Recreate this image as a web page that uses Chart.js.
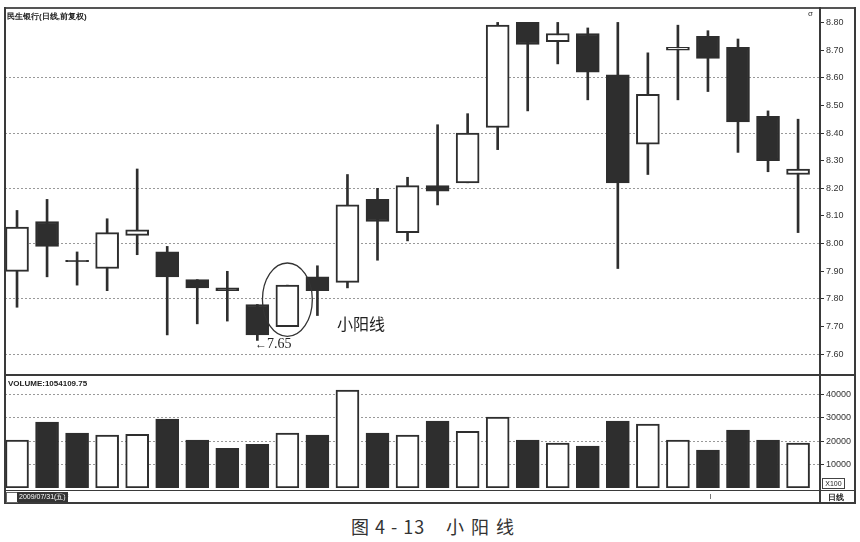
<!DOCTYPE html>
<html>
<head>
<meta charset="utf-8">
<script src="https://cdn.jsdelivr.net/npm/chart.js@4.4.1/dist/chart.umd.min.js"></script>
<style>
  body { margin: 0; width: 860px; height: 542px; background: #fff; position: relative; overflow: hidden; font-family: "Liberation Sans", Arial, sans-serif; }
  .abs { position: absolute; }
  .line { position: absolute; background: #3a3a3a; }
  canvas { position: absolute; }
  .tiny { font-size: 8px; font-weight: bold; color: #222; white-space: nowrap; }
</style>
</head>
<body>
<canvas id="priceChart" width="850" height="366" style="left:5px;top:9px"></canvas>
<canvas id="volumeChart" width="850" height="111" style="left:5px;top:377px"></canvas>

<!-- frame of the trading software window -->
<div class="line" style="left:4px;top:7px;width:852px;height:2px;background:#555"></div>
<div class="line" style="left:4px;top:7px;width:2px;height:497px"></div>
<div class="line" style="left:854px;top:7px;width:2px;height:497px"></div>
<div class="line" style="left:819px;top:7px;width:2px;height:497px"></div>
<div class="line" style="left:4px;top:374px;width:852px;height:2px"></div>
<div class="line" style="left:4px;top:490px;width:852px;height:1px"></div>
<div class="line" style="left:4px;top:502px;width:852px;height:2px"></div>

<div class="abs tiny" style="left:7px;top:11px">民生银行(日线,前复权)</div>
<div class="abs tiny" style="left:8px;top:379px">VOLUME:1054109.75</div>
<div class="abs" style="left:808px;top:9px;font-size:8px;color:#333">σ</div>
<div class="abs" style="left:822px;top:478px;width:21px;height:9px;border:1px solid #444;font-size:7px;line-height:9px;text-align:center;color:#222">X100</div>
<div class="abs" style="left:828px;top:492px;font-size:8px;font-weight:bold;color:#222">日线</div>
<div class="abs" style="left:6px;top:492px;width:10px;height:9px;border:1px solid #666"></div>
<div class="abs" style="left:17px;top:492px;height:10px;padding:0 2px;background:#333;color:#fff;font-size:7px;line-height:10px">2009/07/31(五)</div>
<div class="abs" style="left:64px;top:491px;font-size:8px;color:#333">=</div>
<div class="line" style="left:710px;top:494px;width:1px;height:5px;background:#777"></div>

<!-- annotations -->
<div class="abs" style="left:255px;top:336px;font-family:'Liberation Serif',serif;font-size:14px;color:#222"><span style="font-size:12px;font-weight:bold">&#8592;</span>7.65</div>
<div class="abs" style="left:337px;top:311px;font-family:'Noto Sans CJK SC',sans-serif;font-size:16px;color:#222">小阳线</div>
<div class="abs" style="left:351px;top:513px;font-family:'Noto Sans CJK SC',sans-serif;font-size:18px;color:#333;white-space:pre;letter-spacing:1px">图 4 - 13</div>
<div class="abs" style="left:446px;top:513px;font-family:'Noto Sans CJK SC',sans-serif;font-size:18px;color:#333;letter-spacing:7px">小阳线</div>

<script>
// daily bars (first one is 2009/07/31)
var opens  = [7.90, 8.08, 7.94, 7.91, 8.03, 7.97, 7.87, 7.84, 7.78, 7.70, 7.88, 7.86, 8.16, 8.04, 8.21, 8.22, 8.42, 8.80, 8.73, 8.76, 8.61, 8.36, 8.70, 8.75, 8.71, 8.46, 8.25];
var highs  = [8.12, 8.16, 7.97, 8.09, 8.27, 7.99, 7.87, 7.90, 7.78, 7.85, 7.92, 8.25, 8.20, 8.24, 8.43, 8.47, 8.80, 8.80, 8.80, 8.78, 8.80, 8.69, 8.79, 8.77, 8.74, 8.48, 8.45];
var lows   = [7.77, 7.88, 7.85, 7.83, 7.96, 7.67, 7.71, 7.72, 7.65, 7.70, 7.74, 7.84, 7.94, 8.01, 8.14, 8.22, 8.34, 8.48, 8.65, 8.52, 7.91, 8.25, 8.52, 8.55, 8.33, 8.26, 8.04];
var closes = [8.06, 7.99, 7.935, 8.04, 8.05, 7.88, 7.84, 7.83, 7.67, 7.85, 7.83, 8.14, 8.08, 8.21, 8.19, 8.40, 8.79, 8.72, 8.76, 8.62, 8.22, 8.54, 8.71, 8.67, 8.44, 8.30, 8.27];
var volumes = [20500, 28200, 23500, 22600, 23000, 29500, 20500, 17000, 18700, 23500, 22600, 41900, 23500, 22600, 28600, 24300, 30300, 20500, 19200, 17900, 28600, 27300, 20500, 16200, 24800, 20500, 19200];

var priceTicks = [7.60, 7.70, 7.80, 7.90, 8.00, 8.10, 8.20, 8.30, 8.40, 8.50, 8.60, 8.70, 8.80];
var volumeTicks = [10000, 20000, 30000, 40000];

var DARK = '#2e2e2e';
var isUp = function (i) { return closes[i] >= opens[i]; };
var fillOf = function (ctx) { return isUp(ctx.dataIndex) ? '#ffffff' : DARK; };

var bodies = [], wicks = [], vols = [];
opens.forEach(function (o, i) {
  bodies.push({ x: i, y: [o, closes[i]] });
  wicks.push({ x: i, y: [lows[i], highs[i]] });
  vols.push({ x: i, y: volumes[i] });
});

var xAxis = { type: 'linear', display: false, offset: false, min: -0.4, max: 26.73 };

function rightAxis(min, max, tickValues, fmt, gridTest) {
  return {
    position: 'right',
    min: min,
    max: max,
    border: { display: false, dash: [2, 2] },
    grid: {
      color: function (c) { return gridTest(c.tick.value) ? '#999' : 'rgba(0,0,0,0)'; },
      tickColor: '#333',
      tickLength: 4,
      lineWidth: 1
    },
    ticks: {
      padding: 2,
      color: '#333',
      font: { family: 'Liberation Sans', size: 9 },
      callback: function (v) { return fmt(v); }
    },
    afterBuildTicks: function (scale) {
      scale.ticks = tickValues.map(function (v) { return { value: v }; });
    },
    afterFit: function (scale) {
      scale.width = 35;
      scale.paddingTop = 0;
      scale.paddingBottom = 0;
    }
  };
}

// ellipse drawn round the small positive candle
var ellipsePlugin = {
  id: 'ring',
  afterDatasetsDraw: function (chart) {
    var xs = chart.scales.x, ys = chart.scales.y, ctx = chart.ctx;
    var cx = xs.getPixelForValue(9);
    var rx = xs.getPixelForValue(9.83) - cx;
    var top = ys.getPixelForValue(7.93), bottom = ys.getPixelForValue(7.665);
    ctx.save();
    ctx.strokeStyle = '#333';
    ctx.lineWidth = 1.3;
    ctx.beginPath();
    ctx.ellipse(cx, (top + bottom) / 2, rx, (bottom - top) / 2, 0, 0, Math.PI * 2);
    ctx.stroke();
    ctx.restore();
  }
};

new Chart(document.getElementById('priceChart'), {
  type: 'bar',
  data: {
    datasets: [
      { data: bodies, barThickness: 23, grouped: false, backgroundColor: fillOf, borderColor: DARK, borderWidth: 2, borderSkipped: false },
      { data: wicks, barThickness: 2, grouped: false, backgroundColor: DARK, borderWidth: 0 }
    ]
  },
  options: {
    responsive: false,
    animation: false,
    layout: { padding: 0 },
    plugins: { legend: { display: false }, tooltip: { enabled: false } },
    scales: {
      x: xAxis,
      y: rightAxis(7.525, 8.8485, priceTicks, function (v) { return v.toFixed(2); },
        function (v) { return Math.round(v * 10) % 2 === 0 && v < 8.75; })
    }
  },
  plugins: [ellipsePlugin]
});

new Chart(document.getElementById('volumeChart'), {
  type: 'bar',
  data: {
    datasets: [
      { data: vols, barThickness: 23, grouped: false, backgroundColor: fillOf, borderColor: DARK, borderWidth: 2, borderSkipped: false }
    ]
  },
  options: {
    responsive: false,
    animation: false,
    layout: { padding: 0 },
    plugins: { legend: { display: false }, tooltip: { enabled: false } },
    scales: {
      x: xAxis,
      y: rightAxis(0, 47500, volumeTicks, function (v) { return String(v); },
        function () { return true; })
    }
  }
});
</script>
</body>
</html>
